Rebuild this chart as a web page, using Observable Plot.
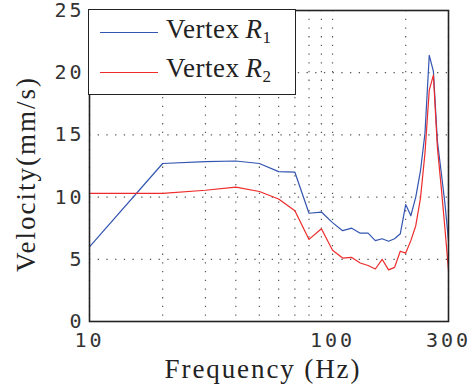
<!DOCTYPE html>
<html>
<head>
<meta charset="utf-8">
<script src="https://cdn.jsdelivr.net/npm/d3@7"></script>
<script src="https://cdn.jsdelivr.net/npm/@observablehq/plot@0.6"></script>
<style>
  html, body { margin: 0; padding: 0; background: #fff; }
  #wrap { position: relative; width: 473px; height: 389px; overflow: hidden; }
  #wrap svg g[aria-label="x-axis tick label"] text,
  #wrap svg g[aria-label="y-axis tick label"] text { letter-spacing: 3px; }
  .legend { position: absolute; left: 88px; top: 9px; width: 206px; height: 84px;
            border: 1.5px solid #222; background: #fff; box-sizing: content-box; }
  .legend .ln { position: absolute; left: 11px; width: 58px; height: 0; border-top: 1.3px solid; }
  .tx { position: absolute; font-family: "Liberation Serif", serif; font-size: 27px;
        letter-spacing: 0.5px; color: #222; line-height: 1; white-space: nowrap; }
  .legend .tx { left: 77px; }
  .legend .tx i { margin-left: 6px; }
  .legend .tx sub { font-size: 17px; font-style: normal; vertical-align: -5px; line-height: 0; }
</style>
</head>
<body>
<div id="wrap"></div>
<script>
// ---- data ----
const freq = [10,20,30,40,50,60,70,80,90,100,110,120,130,140,150,160,170,180,190,200,210,220,230,240,250,260,270,280,290,300];
const vertexR1 = [6.0,12.7,12.85,12.9,12.7,12.05,12.0,8.7,8.8,7.95,7.3,7.5,7.1,7.1,6.5,6.65,6.45,6.65,7.05,9.4,8.5,10.0,12.1,15.1,21.4,20.1,14.5,12.0,9.5,6.5];
const vertexR2 = [10.3,10.3,10.55,10.8,10.45,9.85,8.9,6.6,7.45,5.72,5.1,5.15,4.7,4.5,4.22,5.0,4.15,4.35,5.65,5.5,6.5,7.7,9.9,13.5,18.6,19.8,14.0,10.8,7.5,4.1];
const seriesNames = ["Vertex R1", "Vertex R2"];
const seriesColors = ["#3355b0", "#ee2a2a"];
const xTickLabels = [10, 100, 300];
const xGridValues = [10,20,30,40,50,60,70,80,90,100,200,300];
const yTickLabels = [0, 5, 10, 15, 20, 25];
const xLabel = "Frequency (Hz)";
const yLabel = "Velocity(mm/s)";

const rows = [];
freq.forEach((f, i) => {
  rows.push({f, v: vertexR1[i], s: seriesNames[0]});
  rows.push({f, v: vertexR2[i], s: seriesNames[1]});
});

const chart = Plot.plot({
  width: 473, height: 389,
  marginLeft: 89, marginRight: 25, marginTop: 10, marginBottom: 68,
  style: {fontFamily: "'DejaVu Sans Mono', monospace", fontSize: "20px", color: "#333", background: "#fff"},
  x: {type: "log", domain: [10, 300]},
  y: {domain: [0, 25]},
  color: {domain: seriesNames, range: seriesColors},
  marks: [
    Plot.gridX(xGridValues, {stroke: "#444", strokeOpacity: 0.9, strokeWidth: 1.2, strokeDasharray: "1.3,7.4"}),
    Plot.gridY(yTickLabels, {stroke: "#444", strokeOpacity: 0.9, strokeWidth: 1.2, strokeDasharray: "1.3,7.4"}),
    Plot.line(rows, {x: "f", y: "v", z: "s", stroke: "s", strokeWidth: 1.2}),
    Plot.frame({stroke: "#222", strokeWidth: 1.6}),
    Plot.axisX(xTickLabels, {tickSize: 0, tickPadding: 11, tickFormat: d => String(d), label: null, fontSize: 20}),
    Plot.axisY(yTickLabels, {tickSize: 0, tickPadding: 5, tickFormat: d => String(d), label: null, fontSize: 20})
  ]
});
const wrap = document.getElementById("wrap");
wrap.appendChild(chart);

const xl = document.createElement("div");
xl.className = "tx";
xl.textContent = xLabel;
xl.style.cssText += "left:263px;top:356px;letter-spacing:1.9px;transform:translateX(-50%);font-family:'Liberation Serif','Times New Roman',serif;";
wrap.appendChild(xl);

const yl = document.createElement("div");
yl.className = "tx";
yl.textContent = yLabel;
yl.style.cssText += "left:26px;top:174px;letter-spacing:2px;transform:translate(-50%,-50%) rotate(-90deg);font-family:'Liberation Serif','Times New Roman',serif;";
wrap.appendChild(yl);

const legend = document.createElement("div");
legend.className = "legend";
legend.innerHTML =
  `<div class="ln" style="top:22px;border-color:${seriesColors[0]}"></div>
   <div class="tx" style="top:6px">Vertex<i>R</i><sub>1</sub></div>
   <div class="ln" style="top:62px;border-color:${seriesColors[1]}"></div>
   <div class="tx" style="top:45px">Vertex<i>R</i><sub>2</sub></div>`;
wrap.appendChild(legend);
</script>
</body>
</html>
